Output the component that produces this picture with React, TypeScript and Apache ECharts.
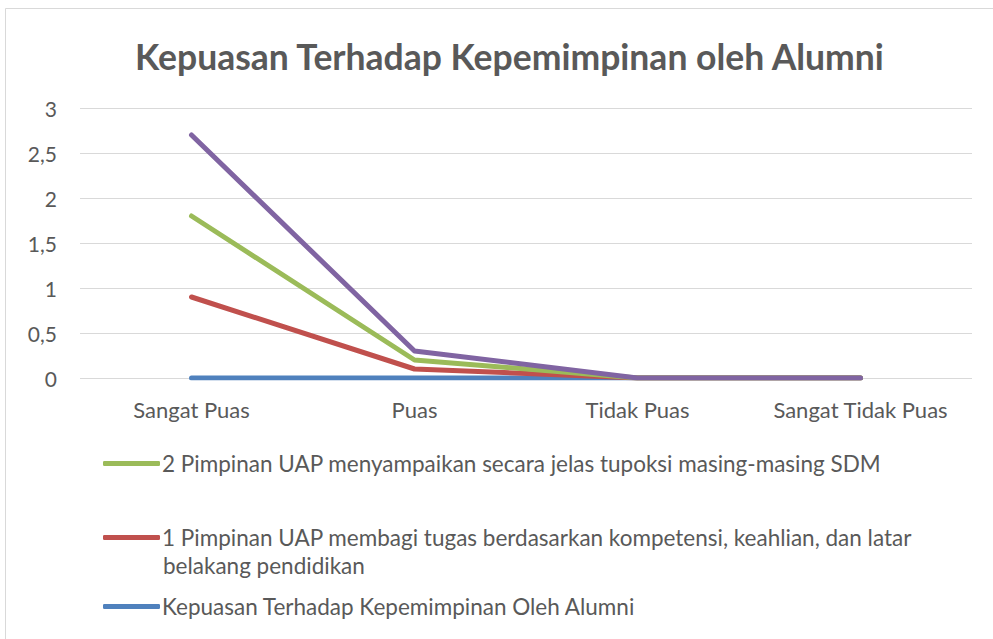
import React, { useEffect, useRef } from "react";
import * as echarts from "echarts";

const categories = ["Sangat Puas", "Puas", "Tidak Puas", "Sangat Tidak Puas"];
const blueName = "Kepuasan Terhadap Kepemimpinan Oleh Alumni";
const redName = "1 Pimpinan UAP membagi tugas berdasarkan kompetensi, keahlian, dan latar belakang pendidikan";
const redLine1 = "1 Pimpinan UAP membagi tugas berdasarkan kompetensi, keahlian, dan latar";
const redLine2 = "belakang pendidikan";
const greenName = "2 Pimpinan UAP menyampaikan secara jelas tupoksi masing-masing SDM";
const purpleName = "3";
const blueValues = [0, 0, 0, 0];
const redValues = [0.9, 0.1, 0, 0];
const greenValues = [1.8, 0.2, 0, 0];
const purpleValues = [2.7, 0.3, 0, 0];

const FONT = "Lato, 'Open Sans', sans-serif";
const TXT = "#595959";

export default function App() {
  const ref = useRef<HTMLDivElement>(null);
  useEffect(() => {
    const chart = echarts.init(ref.current!, null, { renderer: "svg" });
    const mkLegend = (name: string, top: number, label?: string) => ({
      show: true,
      orient: "vertical",
      left: 103,
      top,
      data: [{ name, icon: "roundRect" }],
      itemWidth: 57,
      itemHeight: 5,
      selectedMode: false,
      padding: 0,
      formatter: label ? () => label : undefined,
      textStyle: {
        color: TXT,
        fontFamily: FONT,
        fontSize: 22.5,
        padding: [0, 0, 0, -3],
      },
    });
    const line = (name: string, data: number[], color: string, z: number) => ({
      name,
      type: "line",
      data,
      symbol: "none",
      z,
      lineStyle: { color, width: 5, cap: "round", join: "round" },
      itemStyle: { color },
    });
    chart.setOption({
      animation: false,
      title: {
        text: "Kepuasan Terhadap Kepemimpinan oleh Alumni",
        left: 130,
        top: 33,
        textStyle: { color: TXT, fontFamily: FONT, fontSize: 35.5, fontWeight: "bold" },
      },
      graphic: [
        {
          type: "rect",
          shape: { x: 5.5, y: 8.5, width: 1000, height: 700 },
          style: { fill: "none", stroke: "#d9d9d9", lineWidth: 1 },
          silent: true,
        },
        {
          type: "text",
          left: 163,
          top: 554,
          style: { text: redLine2, fill: TXT, fontFamily: FONT, fontSize: 22.5 },
          silent: true,
        },
      ],
      legend: [
        mkLegend(greenName, 452),
        mkLegend(redName, 526, redLine1),
        mkLegend(blueName, 595),
      ],
      grid: { left: 80, right: 21, top: 108, bottom: 261, containLabel: false },
      xAxis: {
        type: "category",
        data: categories,
        boundaryGap: true,
        axisLine: { show: false },
        axisTick: { show: false },
        axisLabel: { color: TXT, fontFamily: FONT, fontSize: 22, margin: 20, interval: 0 },
      },
      yAxis: {
        type: "value",
        min: 0,
        max: 3,
        interval: 0.5,
        axisLine: { show: false },
        axisTick: { show: false },
        splitLine: { lineStyle: { color: "#d9d9d9", width: 1 } },
        axisLabel: {
          color: TXT,
          fontFamily: FONT,
          fontSize: 21,
          margin: 23,
          formatter: (v: number) => String(v).replace(".", ","),
        },
      },
      series: [
        line(blueName, blueValues, "#4F81BD", 2),
        line(redName, redValues, "#C0504D", 3),
        line(greenName, greenValues, "#9BBB59", 4),
        line(purpleName, purpleValues, "#8064A2", 5),
      ],
    });
    return () => chart.dispose();
  }, []);
  return (
    <div
      ref={ref}
      style={{ position: "absolute", left: 0, top: 0, width: 993, height: 639, background: "#fff" }}
    />
  );
}
